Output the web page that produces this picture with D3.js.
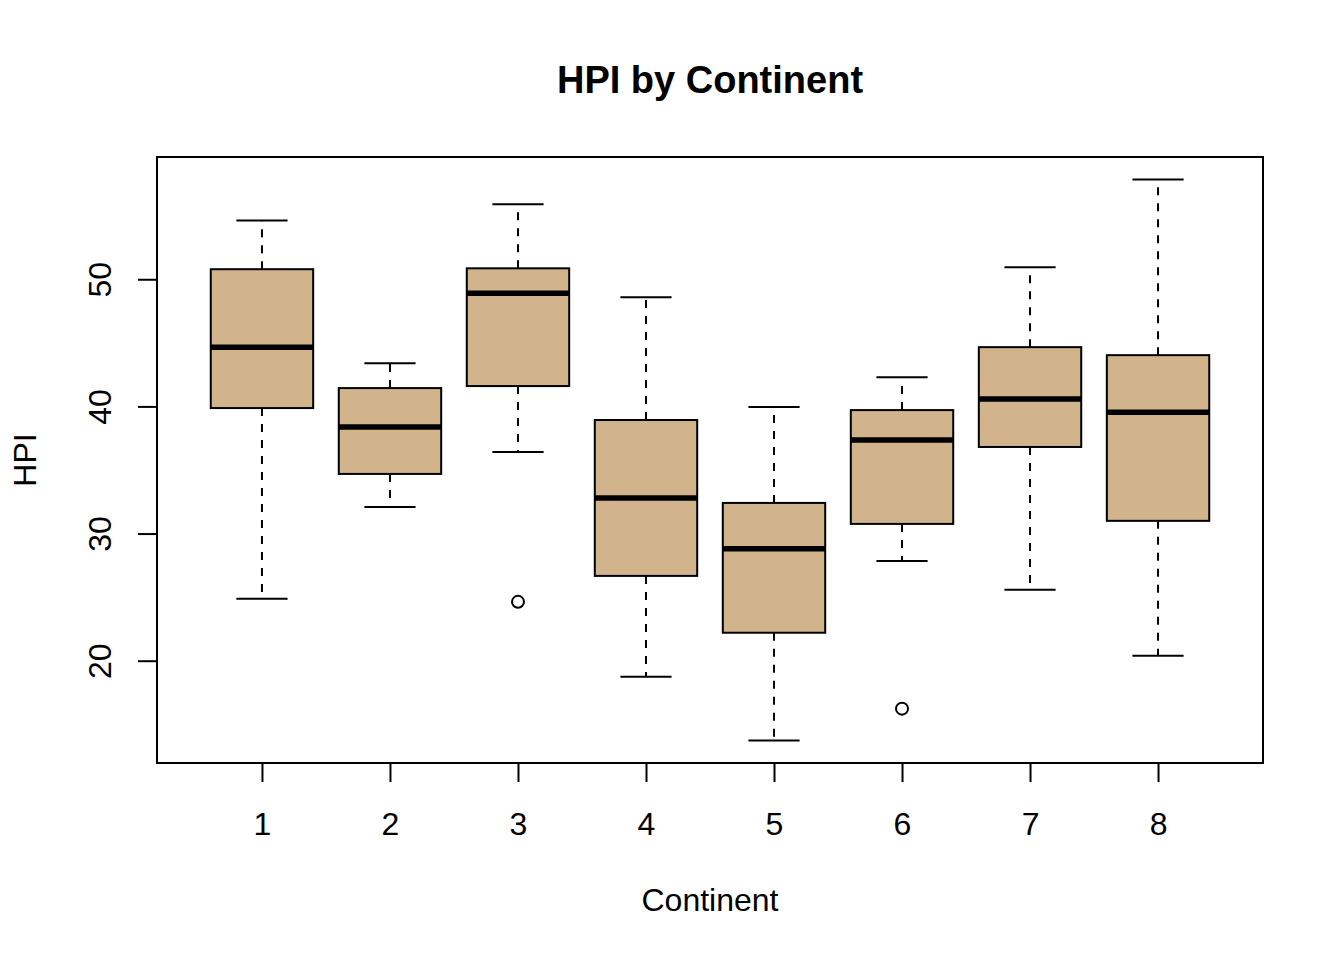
<!DOCTYPE html>
<html lang="en">
  <head>
    <meta charset="UTF-8" />
    <script src="https://d3js.org/d3.v7.min.js"></script>
    <title>HPI by Continent</title>
    <style type="text/css">
      body {
        margin: 0;
        background: #fff;
      }
      text {
        font-family: 'Liberation Sans', Arial, sans-serif;
        fill: #000;
      }
      .tick text {
        font-size: 32px;
      }
      .axis-label {
        font-size: 32px;
      }
      .title {
        font-size: 38px;
        font-weight: bold;
      }
    </style>
  </head>
  <body>
    <svg width="1344" height="960"></svg>
  </body>
  <script type="text/javascript">
    // data
    const continents = [1, 2, 3, 4, 5, 6, 7, 8];
    const lowerWhisker = [24.87, 32.09, 36.41, 18.74, 13.72, 27.85, 25.58, 20.39];
    const q1 = [39.87, 34.69, 41.6, 26.67, 22.2, 30.76, 36.81, 31.0];
    const median = [44.66, 38.38, 48.9, 32.8, 28.8, 37.36, 40.58, 39.55];
    const q3 = [50.79, 41.44, 50.86, 38.93, 32.41, 39.71, 44.66, 44.03];
    const upperWhisker = [54.63, 43.4, 55.89, 48.59, 39.95, 42.3, 50.94, 57.85];
    const outliers = [
      { group: 3, value: 24.63 },
      { group: 6, value: 16.23 },
    ];
    const yTicks = [20, 30, 40, 50];

    const boxes = continents.map((c, i) => ({
      group: c,
      lo: lowerWhisker[i],
      q1: q1[i],
      med: median[i],
      q3: q3[i],
      hi: upperWhisker[i],
    }));

    // plot region (R base graphics style)
    const plotLeft = 157,
      plotRight = 1263,
      plotTop = 157,
      plotBottom = 763;

    const svg = d3.select('svg');

    // x: 0.5..n+0.5 with 4% extension
    const xPad = continents.length * 0.04;
    const xScale = d3
      .scaleLinear()
      .domain([0.5 - xPad, continents.length + 0.5 + xPad])
      .range([plotLeft, plotRight]);

    const yMin = d3.min([...lowerWhisker, ...outliers.map((d) => d.value)]);
    const yMax = d3.max(upperWhisker);
    const yPad = (yMax - yMin) * 0.04;
    const yScale = d3
      .scaleLinear()
      .domain([yMin - yPad, yMax + yPad])
      .range([plotBottom, plotTop]);

    const boxHalf = xScale(0.4) - xScale(0);
    const capHalf = boxHalf / 2;

    const g = svg.append('g');

    // whiskers (dashed)
    g.selectAll('.whisker-up')
      .data(boxes)
      .enter()
      .append('line')
      .attr('x1', (d) => xScale(d.group))
      .attr('x2', (d) => xScale(d.group))
      .attr('y1', (d) => yScale(d.q3))
      .attr('y2', (d) => yScale(d.hi))
      .attr('stroke', '#000')
      .attr('stroke-width', 2)
      .attr('stroke-dasharray', '8,8');

    g.selectAll('.whisker-down')
      .data(boxes)
      .enter()
      .append('line')
      .attr('x1', (d) => xScale(d.group))
      .attr('x2', (d) => xScale(d.group))
      .attr('y1', (d) => yScale(d.q1))
      .attr('y2', (d) => yScale(d.lo))
      .attr('stroke', '#000')
      .attr('stroke-width', 2)
      .attr('stroke-dasharray', '8,8');

    // staples
    ['hi', 'lo'].forEach((k) => {
      g.selectAll('.cap-' + k)
        .data(boxes)
        .enter()
        .append('line')
        .attr('x1', (d) => xScale(d.group) - capHalf)
        .attr('x2', (d) => xScale(d.group) + capHalf)
        .attr('y1', (d) => yScale(d[k]))
        .attr('y2', (d) => yScale(d[k]))
        .attr('stroke', '#000')
        .attr('stroke-width', 2);
    });

    // boxes
    g.selectAll('rect')
      .data(boxes)
      .enter()
      .append('rect')
      .attr('x', (d) => xScale(d.group) - boxHalf)
      .attr('width', boxHalf * 2)
      .attr('y', (d) => yScale(d.q3))
      .attr('height', (d) => yScale(d.q1) - yScale(d.q3))
      .attr('fill', '#D2B48C')
      .attr('stroke', '#000')
      .attr('stroke-width', 2);

    // medians
    g.selectAll('.median')
      .data(boxes)
      .enter()
      .append('line')
      .attr('x1', (d) => xScale(d.group) - boxHalf)
      .attr('x2', (d) => xScale(d.group) + boxHalf)
      .attr('y1', (d) => yScale(d.med))
      .attr('y2', (d) => yScale(d.med))
      .attr('stroke', '#000')
      .attr('stroke-width', 5.5);

    // outliers
    g.selectAll('circle')
      .data(outliers)
      .enter()
      .append('circle')
      .attr('cx', (d) => xScale(d.group))
      .attr('cy', (d) => yScale(d.value))
      .attr('r', 6)
      .attr('fill', 'none')
      .attr('stroke', '#000')
      .attr('stroke-width', 2);

    // frame
    svg
      .append('rect')
      .attr('x', plotLeft)
      .attr('y', plotTop)
      .attr('width', plotRight - plotLeft)
      .attr('height', plotBottom - plotTop)
      .attr('fill', 'none')
      .attr('stroke', '#000')
      .attr('stroke-width', 2);

    // x axis
    const xAxisG = svg
      .append('g')
      .attr('transform', `translate(0, ${plotBottom})`)
      .call(d3.axisBottom(xScale).tickValues(continents).tickFormat(d3.format('d')).tickSize(19).tickPadding(30));
    xAxisG.select('.domain').remove();
    xAxisG.selectAll('.tick line').attr('stroke-width', 2);

    // y axis
    const yAxisG = svg
      .append('g')
      .attr('transform', `translate(${plotLeft}, 0)`)
      .call(d3.axisLeft(yScale).tickValues(yTicks).tickSize(19).tickPadding(0));
    yAxisG.select('.domain').remove();
    yAxisG.selectAll('.tick line').attr('stroke-width', 2);
    yAxisG
      .selectAll('.tick text')
      .attr('x', 0)
      .attr('dy', 0)
      .attr('text-anchor', 'middle')
      .attr('transform', 'translate(-57, 0) rotate(-90)')
      .attr('dominant-baseline', 'central');

    // labels
    svg
      .append('text')
      .attr('class', 'title')
      .attr('x', (plotLeft + plotRight) / 2)
      .attr('y', 93)
      .attr('text-anchor', 'middle')
      .text('HPI by Continent');

    svg
      .append('text')
      .attr('class', 'axis-label')
      .attr('x', (plotLeft + plotRight) / 2)
      .attr('y', 911)
      .attr('text-anchor', 'middle')
      .text('Continent');

    svg
      .append('text')
      .attr('class', 'axis-label')
      .attr('transform', `translate(36, ${(plotTop + plotBottom) / 2}) rotate(-90)`)
      .attr('text-anchor', 'middle')
      .text('HPI');
  </script>
</html>
